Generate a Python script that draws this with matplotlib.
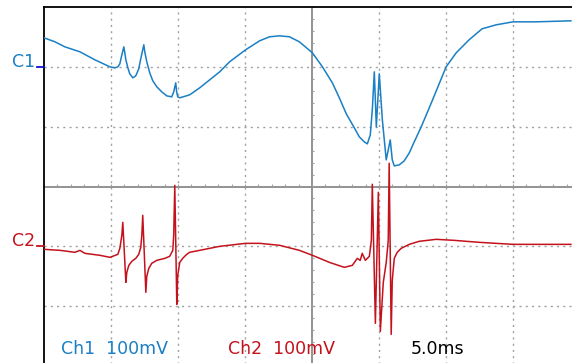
import matplotlib
matplotlib.use("Agg")
import matplotlib.pyplot as plt
import numpy as np

# time base: 5.0 ms/div, vertical: 100 mV/div
# Ch1 (blue) - time in ms, voltage in mV relative to the C1 marker
ch1_t = [0.00, 0.82, 1.56, 2.68, 3.80, 4.92, 5.29, 5.51, 5.66, 5.81, 5.96, 6.03, 6.11, 6.26,
         6.40, 6.63, 6.85, 7.07, 7.22, 7.45, 7.52, 7.67, 7.89, 8.12, 8.42, 8.79, 9.16, 9.53,
         9.68, 9.83, 9.90, 9.98, 10.13, 10.87, 11.62, 13.11, 13.85, 15.04, 16.09, 16.83,
         17.58, 18.32, 19.06, 20.03, 20.78, 21.52, 22.04, 22.56, 23.16, 23.53, 23.90, 24.13,
         24.35, 24.50, 24.65, 24.80, 25.02, 25.25, 25.54, 25.69, 25.84, 25.99, 26.14, 26.51,
         26.88, 27.26, 27.63, 28.15, 28.75, 29.49, 30.01, 30.76, 31.72, 32.69, 33.74, 35.00,
         36.71, 39.32]
ch1_mv = [48.5, 41.8, 33.4, 25.1, 11.7, 0.0, -1.7, 0.0, 5.0, 20.1, 33.4, 23.4, 11.7, -1.7,
          -11.7, -18.4, -15.0, -3.3, 13.4, 36.8, 25.1, 8.4, -10.0, -23.4, -33.4, -41.8, -48.5,
          -50.2, -41.8, -26.8, -41.8, -50.2, -51.8, -46.8, -35.1, -8.4, 8.4, 28.4, 43.5, 50.2,
          51.8, 50.2, 41.8, 23.4, 0.0, -26.8, -51.8, -78.6, -102.0, -117.0, -125.4, -128.7,
          -113.7, -71.9, -8.4, -100.3, -11.7, -88.6, -155.5, -138.8, -122.1, -155.5, -165.5,
          -163.9, -157.2, -143.8, -125.4, -100.3, -68.6, -28.4, 0.0, 23.4, 45.1, 63.5, 70.2,
          75.2, 75.2, 76.9]

# Ch2 (red) - time in ms, voltage in mV relative to the C2 marker
ch2_t = [0.00, 1.19, 2.31, 2.68, 3.05, 4.17, 4.92, 5.51, 5.66, 5.81, 5.88, 6.11, 6.18, 6.33,
         6.55, 6.85, 7.07, 7.22, 7.30, 7.37, 7.60, 7.67, 7.82, 8.04, 8.42, 9.01, 9.38, 9.61,
         9.68, 9.76, 9.91, 9.98, 10.13, 10.35, 10.65, 10.87, 11.62, 13.11, 15.04, 16.09,
         17.58, 19.06, 20.03, 21.30, 22.41, 23.01, 23.38, 23.60, 23.75, 23.98, 24.28, 24.43,
         24.50, 24.73, 24.95, 25.10, 25.32, 25.54, 25.69, 25.76, 25.91, 25.99, 26.14, 26.36,
         26.66, 27.26, 28.00, 29.27, 30.61, 32.47, 35.00, 39.32]
ch2_mv = [-5.0, -6.7, -10.0, -6.7, -11.7, -15.0, -18.4, -13.4, -3.3, 18.4, 40.1, -60.2, -43.5,
          -31.8, -25.1, -20.1, -13.4, -1.7, 18.4, 51.8, -76.9, -50.2, -36.8, -28.4, -23.4,
          -20.1, -16.7, -6.7, 18.4, 102.0, -97.0, -48.5, -26.8, -20.1, -13.4, -10.0, -6.7,
          0.0, 5.0, 5.0, 1.7, -6.7, -15.0, -26.8, -35.1, -31.8, -20.1, -23.4, -11.7, -23.4,
          -16.7, 10.0, 103.7, -128.7, 90.3, -142.1, -60.2, -26.8, 10.0, 138.8, -147.1, -56.9,
          -20.1, -10.0, -3.3, 3.3, 8.4, 11.7, 10.0, 6.7, 3.3, 3.3]

ch1_offset_div = 2.0
ch2_offset_div = -1.0
mv_per_div = 100.0
ms_per_div = 5.0

BLUE = "#1a7fc4"
RED = "#c4121c"
FONT = "DejaVu Sans"
FS = 12.5

W, H = 572, 363
fig = plt.figure(figsize=(W / 100, H / 100), dpi=100)
# plot area: 8 x 6 divisions, slightly cropped on right/bottom
ax = fig.add_axes([44 / W, (H - 366) / H, 536 / W, 359 / H])
ax.set_xlim(0, 8 * ms_per_div)
ax.set_ylim(-3, 3)
ax.set_xticks([])
ax.set_yticks([])
for s in ["right", "bottom"]:
    ax.spines[s].set_visible(False)
for s in ["left", "top"]:
    ax.spines[s].set_linewidth(1.3)
    ax.spines[s].set_color("black")

# dotted grid
for k in range(1, 8):
    if k != 4:
        ax.axvline(k * ms_per_div, color="#a0a0a0", lw=1.0, ls=(0, (1.5, 3)), zorder=1)
for k in [-2, -1, 1, 2]:
    ax.axhline(k, color="#a0a0a0", lw=1.0, ls=(0, (1.5, 3)), zorder=1)

# center lines with small minor ticks
ax.axhline(0, color="#8a8a8a", lw=1.3, zorder=1)
ax.axvline(4 * ms_per_div, color="#8a8a8a", lw=1.3, zorder=1)
minor_x = np.arange(0, 8 * ms_per_div + 0.01, ms_per_div / 5)
ax.plot(minor_x, np.zeros_like(minor_x) + 0.025, ls="none", marker="|", ms=2,
        color="#a0a0a0", mew=0.8, zorder=1)
minor_y = np.arange(-3, 3.01, 0.2)
ax.plot(np.full_like(minor_y, 4 * ms_per_div + 0.1), minor_y, ls="none", marker="_",
        ms=2, color="#a0a0a0", mew=0.8, zorder=1)

# traces
y1 = ch1_offset_div + np.array(ch1_mv) / mv_per_div
y2 = ch2_offset_div + np.array(ch2_mv) / mv_per_div
ax.plot(ch1_t, y1, color=BLUE, lw=1.1, zorder=3, solid_joinstyle="round")
ax.plot(ch2_t, y2, color=RED, lw=1.1, zorder=3, solid_joinstyle="round")

# channel markers on the left
def fy(py):
    return (H - py) / H

fig.text(12 / W, fy(62), "C1", color=BLUE, fontsize=FS, family=FONT, va="center", ha="left")
fig.text(12 / W, fy(241), "C2", color=RED, fontsize=FS, family=FONT, va="center", ha="left")
fig.add_artist(plt.Line2D([37 / W, 44 / W], [fy(67), fy(67)], color="#1010d0", lw=1.3))
fig.add_artist(plt.Line2D([37 / W, 44 / W], [fy(246), fy(246)], color=RED, lw=1.3))

# readouts
fig.text(61 / W, fy(354), "Ch1  100mV", color=BLUE, fontsize=FS, family=FONT, va="baseline")
fig.text(228 / W, fy(354), "Ch2  100mV", color=RED, fontsize=FS, family=FONT, va="baseline")
fig.text(411 / W, fy(354), "5.0ms", color="black", fontsize=FS, family=FONT, va="baseline")

fig.savefig("out.png", dpi=100, facecolor="white")
